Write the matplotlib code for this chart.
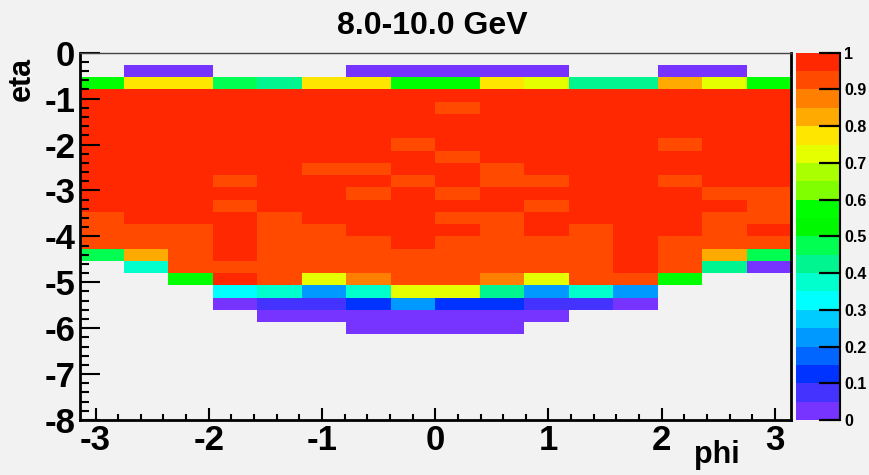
import numpy as np
import matplotlib
matplotlib.use("Agg")
import matplotlib.pyplot as plt
from matplotlib.colors import ListedColormap, BoundaryNorm

# ---------------- data ----------------
n = np.nan
n_phi_bins = 16
n_eta_bins = 30
phi_range = (-np.pi, np.pi)
eta_range = (-8.0, 0.0)

# efficiency per cell; rows listed from eta = 0 downward (row 0 is the top bin)
eff_rows = [
    [n] * 16,
    [n, .02, .02, n, n, n, .02, .02, .02, .02, .02, n, n, .02, .02, n],
    [.56, .77, .77, .47, .42, .77, .77, .56, .56, .77, .72, .42, .42, .82, .72, .56],
    [.98, .98, .98, .98, .98, .98, .98, .98, .98, .98, .98, .98, .98, .98, .98, .98],
    [.98, .98, .98, .98, .98, .98, .98, .98, .93, .98, .98, .98, .98, .98, .98, .98],
    [.98, .98, .98, .98, .98, .98, .98, .98, .98, .98, .98, .98, .98, .98, .98, .98],
    [.98, .98, .98, .98, .98, .98, .98, .98, .98, .98, .98, .98, .98, .98, .98, .98],
    [.98, .98, .98, .98, .98, .98, .98, .93, .98, .98, .98, .98, .98, .93, .98, .98],
    [.98, .98, .98, .98, .98, .98, .98, .98, .93, .98, .98, .98, .98, .98, .98, .98],
    [.98, .98, .98, .98, .98, .93, .93, .98, .98, .93, .98, .98, .98, .98, .98, .98],
    [.98, .98, .98, .93, .98, .98, .98, .93, .98, .93, .93, .98, .98, .93, .98, .98],
    [.98, .98, .98, .98, .98, .98, .93, .98, .93, .98, .98, .98, .98, .98, .93, .93],
    [.98, .98, .98, .93, .98, .98, .98, .98, .98, .98, .93, .98, .98, .98, .98, .93],
    [.93, .98, .98, .98, .93, .98, .98, .98, .93, .93, .98, .98, .98, .98, .93, .93],
    [.93, .93, .93, .98, .93, .93, .98, .98, .98, .93, .98, .93, .98, .98, .93, .98],
    [.93, .93, .93, .98, .93, .93, .93, .98, .93, .93, .93, .93, .98, .93, .93, .93],
    [.47, .82, .93, .98, .93, .93, .93, .93, .93, .93, .93, .93, .98, .93, .82, .47],
    [n, .37, .93, .93, .93, .93, .93, .93, .93, .93, .93, .93, .98, .93, .42, .02],
    [n, n, .56, .98, .93, .72, .87, .93, .93, .87, .72, .93, .93, .56, n, n],
    [n, n, n, .32, .37, .22, .37, .72, .72, .42, .22, .37, .22, n, n, n],
    [n, n, n, .02, .07, .07, .12, .22, .12, .12, .07, .07, .02, n, n, n],
    [n, n, n, n, .02, .02, .02, .02, .02, .02, .02, n, n, n, n, n],
    [n, n, n, n, n, n, .02, .02, .02, .02, n, n, n, n, n, n],
]

x_ticks = [-3, -2, -1, 0, 1, 2, 3]
x_tick_labels = ["-3", "-2", "-1", "0", "1", "2", "3"]
y_ticks = [-8, -7, -6, -5, -4, -3, -2, -1, 0]
y_tick_labels = ["-8", "-7", "-6", "-5", "-4", "-3", "-2", "-1", "0"]
cb_ticks = [0, .1, .2, .3, .4, .5, .6, .7, .8, .9, 1]
cb_tick_labels = ["0", "0.1", "0.2", "0.3", "0.4", "0.5", "0.6", "0.7", "0.8", "0.9", "1"]
title_text = "8.0-10.0 GeV"
x_title = "phi"
y_title = "eta"

palette = ["#7733ff", "#4433ff", "#0033ff", "#0066ff", "#0099ff",
           "#00ccff", "#00ffff", "#00ffcc", "#00f590", "#00ff50",
           "#00f800", "#00ff00", "#80ff00", "#aaff00", "#e6ff00",
           "#ffe600", "#ffaa00", "#ff8000", "#ff4a00", "#ff2800"]

# ---------------- figure ----------------
W, H = 869, 475
BG = "#f2f2f2"
FONT = "Liberation Sans"
fig = plt.figure(figsize=(W / 100, H / 100), dpi=100, facecolor=BG)


def rect(x0, y0, x1, y1):
    return [x0 / W, 1 - y1 / H, (x1 - x0) / W, (y1 - y0) / H]


ax = fig.add_axes(rect(79.5, 52.7, 791, 420))
ax.set_facecolor(BG)

phi_edges = np.linspace(phi_range[0], phi_range[1], n_phi_bins + 1)
eta_edges = np.linspace(eta_range[0], eta_range[1], n_eta_bins + 1)
grid = np.full((n_eta_bins, n_phi_bins), np.nan)
for k, row in enumerate(eff_rows):
    grid[n_eta_bins - 1 - k] = row

cmap = ListedColormap(palette)
norm = BoundaryNorm(np.linspace(0, 1, 21), 20)
mesh = ax.pcolormesh(phi_edges, eta_edges, np.ma.masked_invalid(grid),
                     cmap=cmap, norm=norm, shading="flat",
                     antialiased=False, edgecolors="none")

ax.set_xlim(*phi_range)
ax.set_ylim(*eta_range)

ax.set_xticks(x_ticks)
ax.set_xticklabels(x_tick_labels, fontsize=25, fontweight="bold", family=FONT)
ax.set_xticks([v for v in np.arange(-3.2, 3.21, 0.2) if -np.pi < v < np.pi], minor=True)
ax.set_yticks(y_ticks)
ax.set_yticklabels(y_tick_labels, fontsize=25, fontweight="bold", family=FONT)
ax.set_yticks(np.arange(-8, 0.01, 0.2), minor=True)

ax.tick_params(axis="x", which="major", direction="in", length=8.5, width=1.5,
               top=False, pad=3, colors="black")
ax.tick_params(axis="x", which="minor", direction="in", length=4.5, width=1.5, top=False)
ax.tick_params(axis="y", which="major", direction="in", length=14.5, width=1.5,
               right=False, pad=3, colors="black")
ax.tick_params(axis="y", which="minor", direction="in", length=6.5, width=1.5, right=False)

for s in ["left", "bottom", "right"]:
    ax.spines[s].set_linewidth(2)
    ax.spines[s].set_color("black")
ax.spines["top"].set_linewidth(1)
ax.spines["top"].set_color("#444444")

# colorbar
cax = fig.add_axes(rect(796, 52.7, 840, 420))
cb = fig.colorbar(mesh, cax=cax, ticks=cb_ticks)
cb.outline.set_visible(False)
cax.set_yticklabels(cb_tick_labels, fontsize=11.5, fontweight="bold", family=FONT)
cax.tick_params(axis="y", which="major", direction="in", length=15, width=1.6,
                right=True, left=False, pad=3)
cax.tick_params(axis="y", which="minor", length=0)
cax.plot([1, 1], [0, 1], transform=cax.transAxes, color="black", lw=1.5, clip_on=False)

# titles
fig.text(432 / W, 1 - 26 / H, title_text, ha="center", va="center",
         fontsize=23, fontweight="bold", family=FONT)
fig.text(22 / W, 1 - 57 / H, y_title, rotation=90, ha="center", va="top",
         fontsize=22, fontweight="bold", family=FONT)
fig.text(717 / W, 1 - 440 / H, x_title, ha="center", va="top",
         fontsize=22, fontweight="bold", family=FONT)

fig.savefig("out.png", dpi=100, facecolor=BG)
